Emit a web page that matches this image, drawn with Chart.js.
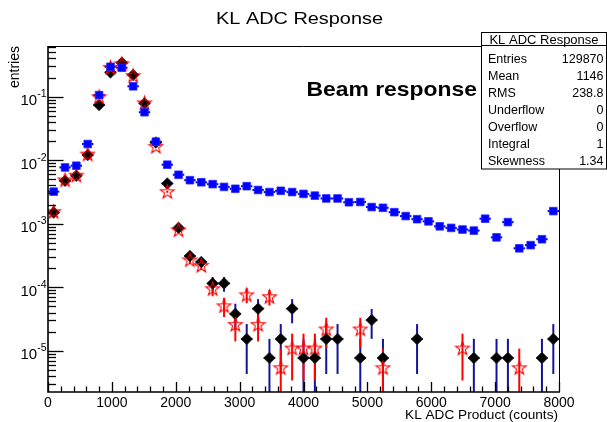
<!DOCTYPE html>
<html><head><meta charset="utf-8">
<script src="https://cdn.jsdelivr.net/npm/chart.js@4/dist/chart.umd.min.js"></script>
<style>html,body{margin:0;padding:0;background:#fff;overflow:hidden}</style>
</head><body>
<canvas id="c" width="607" height="422"></canvas>
<script>
// ---------- DATA ----------
const binCenters = [89,267,444,622,800,978,1156,1333,1511,1689,1867,2044,2222,2400,2578,2756,2933,3111,3289,3467,3644,3822,4000,4178,4356,4533,4711,4889,5067,5244,5422,5600,5778,5956,6133,6311,6489,6667,6844,7022,7200,7378,7556,7733,7911];
const halfBin = 88.9;

// blue squares
const blueValues = [3.2e-3,7.7e-3,8.2e-3,0.018,0.106,0.296,0.286,0.146,0.057,0.0196,8.5e-3,5.9e-3,4.85e-3,4.5e-3,4.2e-3,3.8e-3,3.55e-3,3.9e-3,3.4e-3,3.15e-3,3.3e-3,3.15e-3,2.95e-3,2.77e-3,2.5e-3,2.5e-3,2.18e-3,2.2e-3,1.83e-3,1.78e-3,1.52e-3,1.32e-3,1.18e-3,1.09e-3,9.1e-4,8.6e-4,8.1e-4,7.8e-4,1.2e-3,6.1e-4,1.06e-3,4.1e-4,4.6e-4,5.7e-4,1.58e-3];

// black markers (dark blue error bars)
const blackValues = [1.5e-3,4.75e-3,5.7e-3,0.0121,0.074,0.242,0.343,0.22,0.0787,0.019,4.3e-3,8.6e-4,3.1e-4,2.5e-4,1.15e-4,1.15e-4,3.8e-5,1.53e-5,4.6e-5,7.7e-6,1.53e-5,4.6e-5,7.7e-6,7.7e-6,1.53e-5,1.53e-5,null,7.7e-6,3.04e-5,7.7e-6,null,null,1.53e-5,null,null,null,null,7.7e-6,null,7.7e-6,7.7e-6,null,null,7.7e-6,1.53e-5];
const blackErrors = [1.1e-4,1.9e-4,2.1e-4,3.1e-4,7.5e-4,1.4e-3,1.6e-3,1.3e-3,7.7e-4,3.8e-4,1.8e-4,8.1e-5,4.9e-5,4.4e-5,3.0e-5,3.0e-5,1.7e-5,1.1e-5,1.9e-5,7.7e-6,1.1e-5,1.9e-5,7.7e-6,7.7e-6,1.1e-5,1.1e-5,null,7.7e-6,1.5e-5,7.7e-6,null,null,1.1e-5,null,null,null,null,7.7e-6,null,7.7e-6,7.7e-6,null,null,7.7e-6,1.1e-5];

// red open stars
const redValues = [1.55e-3,4.9e-3,5.8e-3,0.0125,0.1,0.29,0.33,0.215,0.08,0.0165,3.2e-3,8.0e-4,2.7e-4,2.2e-4,9.5e-5,5.1e-5,2.6e-5,7.6e-5,2.6e-5,7.1e-5,5.4e-6,1.1e-5,1.1e-5,1.1e-5,2.2e-5,null,null,2.2e-5,null,5.4e-6,null,null,null,null,null,null,1.1e-5,null,null,null,null,5.4e-6,null,null,null];
const redErrors = [9.2e-5,1.6e-4,1.8e-4,2.6e-4,7.2e-4,1.25e-3,1.35e-3,1.07e-3,6.6e-4,3.0e-4,1.3e-4,6.6e-5,3.8e-5,3.4e-5,2.3e-5,1.7e-5,1.2e-5,2.0e-5,1.2e-5,1.95e-5,5.4e-6,7.6e-6,7.6e-6,7.6e-6,1.1e-5,null,null,1.1e-5,null,5.4e-6,null,null,null,null,null,null,7.6e-6,null,null,null,null,5.4e-6,null,null,null];

const xTickLabels = ['0','1000','2000','3000','4000','5000','6000','7000','8000'];
const yDecades = [1e-5,1e-4,1e-3,1e-2,1e-1];
const yDecadeExponents = ['-5','-4','-3','-2','-1'];
const statsTitle = 'KL ADC Response';
const statsLabels = ['Entries','Mean','RMS','Underflow','Overflow','Integral','Skewness'];
const statsValues = ['129870','1146','238.8','0','0','1','1.34'];

// ---------- HELPERS ----------
const FONT = '"Liberation Sans", Arial, Helvetica, sans-serif';
function pts(vals){ const o=[]; vals.forEach((v,i)=>{ if(v!==null) o.push({x:binCenters[i], y:v}); }); return o; }
function makeStar(){
  const c=document.createElement('canvas'); c.width=17; c.height=17;
  const g=c.getContext('2d'); g.strokeStyle='#ff0000'; g.lineWidth=1.1;
  g.beginPath();
  for(let k=0;k<10;k++){ const r=(k%2)?2.9:7.2; const a=-Math.PI/2+k*Math.PI/5;
    const px=8.5+r*Math.cos(a), py=9+r*Math.sin(a); if(k) g.lineTo(px,py); else g.moveTo(px,py); }
  g.closePath(); g.stroke(); return c;
}
function txt(ctx,s,x,y,font,align,sx){
  ctx.save(); ctx.font=font; ctx.fillStyle='#000'; ctx.textBaseline='alphabetic'; ctx.textAlign=align;
  ctx.translate(x,y); ctx.scale(sx,1); ctx.fillText(s,0,0); ctx.restore();
}

const errPlugin = {
  id:'errbars',
  beforeDatasetsDraw(chart){
    const {ctx, chartArea:a, scales:{x,y}} = chart;
    ctx.save(); ctx.beginPath(); ctx.rect(a.left,a.top,a.right-a.left,a.bottom-a.top); ctx.clip();
    function bars(vals, errs, color, horiz){
      ctx.strokeStyle=color; ctx.lineWidth=2;
      vals.forEach((v,i)=>{
        if(v===null) return;
        const px=x.getPixelForValue(binCenters[i]); const py=y.getPixelForValue(v);
        const e = errs ? errs[i] : null;
        if(e){
          const hi=y.getPixelForValue(v+e);
          const lo=(v-e)>y.min ? y.getPixelForValue(v-e) : a.bottom;
          ctx.beginPath(); ctx.moveTo(px,hi); ctx.lineTo(px,lo); ctx.stroke();
        }
        if(horiz){
          ctx.beginPath(); ctx.moveTo(x.getPixelForValue(binCenters[i]-halfBin),py);
          ctx.lineTo(x.getPixelForValue(binCenters[i]+halfBin),py); ctx.stroke();
        }
      });
    }
    bars(blackValues, blackErrors, '#13139a', true);
    bars(redValues, redErrors, '#ff0000', false);
    bars(blueValues, null, '#0000ff', true);
    ctx.restore();
  }
};

const decorPlugin = {
  id:'decor',
  afterDraw(chart){
    const {ctx, chartArea:a, scales:{x,y}} = chart;
    ctx.save();
    ctx.strokeStyle='#000';
    // frame
    ctx.lineWidth=1;
    ctx.beginPath(); ctx.moveTo(a.left,a.top+0.5); ctx.lineTo(a.right+0.5,a.top+0.5); ctx.lineTo(a.right+0.5,a.bottom); ctx.stroke();
    ctx.lineWidth=1.6;
    ctx.beginPath(); ctx.moveTo(a.left,a.top); ctx.lineTo(a.left,a.bottom); ctx.lineTo(a.right+1,a.bottom); ctx.stroke();
    // x ticks
    ctx.lineWidth=1.3;
    for(let v=0; v<=8000; v+=200){
      const px=Math.round(x.getPixelForValue(v))+0.5; const len=(v%1000===0)?10:5.5;
      ctx.beginPath(); ctx.moveTo(px,a.bottom); ctx.lineTo(px,a.bottom-len); ctx.stroke();
    }
    // y ticks
    for(let d=-6; d<=0; d++){
      for(let m=1;m<=9;m++){
        const v=m*Math.pow(10,d); if(v<y.min||v>y.max) continue;
        const py=Math.round(y.getPixelForValue(v))+0.5; const len=(m===1)?15.5:8;
        ctx.beginPath(); ctx.moveTo(a.left,py); ctx.lineTo(a.left+len,py); ctx.stroke();
      }
    }
    // y tick labels 10^n
    yDecades.forEach((v,k)=>{
      const py=y.getPixelForValue(v);
      ctx.font='15px '+FONT; const bw=ctx.measureText('10').width;
      ctx.font='10.5px '+FONT; const sw=ctx.measureText(yDecadeExponents[k]).width;
      const right=a.left-1.5;
      txt(ctx,'10',right-sw-bw,py+8.3,'15px '+FONT,'left',1);
      txt(ctx,yDecadeExponents[k],right-sw,py+0.5,'10.5px '+FONT,'left',1);
    });
    // axis titles
    ctx.save(); ctx.font='14px '+FONT; ctx.fillStyle='#000'; ctx.textAlign='right'; ctx.textBaseline='alphabetic';
    ctx.translate(19,a.top); ctx.rotate(-Math.PI/2); ctx.fillText('entries',0,0); ctx.restore();
    txt(ctx,'KL ADC Product (counts)',a.right-1,418.5,'12.5px '+FONT,'right',1.09);
    // main title
    txt(ctx,'KL ADC Response',299.5,24,'17px '+FONT,'center',1.17);
    // label
    txt(ctx,'Beam response',306.5,96,'bold 21px '+FONT,'left',1.09);
    // stats box
    const bx=481.5, by=32.5, bw2=125, bh=136.5;
    ctx.fillStyle='#fff'; ctx.fillRect(bx,by,bw2,bh);
    ctx.lineWidth=1; ctx.strokeStyle='#000'; ctx.strokeRect(bx,by,bw2,bh);
    ctx.beginPath(); ctx.moveTo(bx,45.5); ctx.lineTo(bx+bw2,45.5); ctx.stroke();
    txt(ctx,statsTitle,bx+bw2/2,43.5,'13px '+FONT,'center',1);
    statsLabels.forEach((l,k)=>{
      const yy=58.3+k*17.1+4.5;
      txt(ctx,l,488,yy,'12.5px '+FONT,'left',1);
      txt(ctx,statsValues[k],603.5,yy,'12.5px '+FONT,'right',1);
    });
    ctx.restore();
  }
};

const starImg = makeStar();

new Chart(document.getElementById('c'), {
  type:'scatter',
  data:{ datasets:[
    { label:'beam', data:pts(blueValues), pointStyle:'rect', radius:5.4, backgroundColor:'#0000ff', borderColor:'#2a2aff', borderWidth:0.8 },
    { label:'red', data:pts(redValues), pointStyle:starImg, radius:7 },
    { label:'black', data:pts(blackValues), pointStyle:'rectRot', radius:5.8, backgroundColor:'#000', borderColor:'#222', borderWidth:0.8 }
  ]},
  options:{
    responsive:false, animation:false, devicePixelRatio:1,
    layout:{ padding:{left:0, right:48, top:46, bottom:0} },
    plugins:{ legend:{display:false}, tooltip:{enabled:false}, title:{display:false} },
    scales:{
      x:{ type:'linear', min:0, max:8000, bounds:'data',
          afterFit(s){ s.height=30; },
          grid:{display:false, drawTicks:false}, border:{display:false},
          ticks:{ stepSize:1000, autoSkip:false, maxRotation:0, padding:3, color:'#000',
                  font:{family:FONT, size:14},
                  callback:(v)=> xTickLabels[Math.round(v/1000)] ?? '' } },
      y:{ type:'logarithmic', min:2.24e-6, max:0.629, bounds:'data',
          afterFit(s){ s.width=48; },
          grid:{display:false, drawTicks:false}, border:{display:false},
          ticks:{ display:false } }
    }
  },
  plugins:[errPlugin, decorPlugin]
});
</script>
</body></html>
